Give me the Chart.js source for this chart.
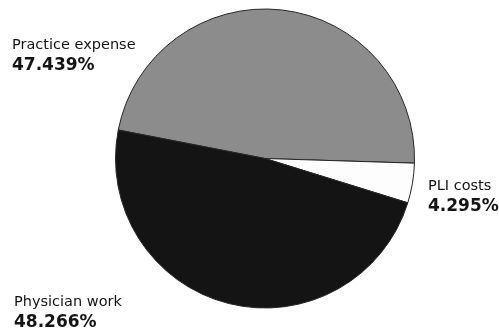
<!DOCTYPE html>
<meta charset="utf-8">
<style>
html, body {
  margin: 0;
  background: #fff;
}

#pie {
  display: block;
}
</style>
<body>

<canvas id="pie" width="499" height="331"></canvas>

<script src="https://cdn.jsdelivr.net/npm/chart.js@4/dist/chart.umd.min.js"></script>
<script>
"use strict";

// cost shares, in percent
var categories = ["Practice expense", "PLI costs", "Physician work"];
var shares = [47.439, 4.295, 48.266];
var sliceColors = ["#8c8c8c", "#fdfdfd", "#141414"];

// where each label block sits (left edge, baseline of the name line)
var labelSpots = [
  { x: 12, y: 49 },
  { x: 428, y: 190 },
  { x: 14, y: 306 }
];

var sliceLabels = {
  id: "sliceLabels",
  afterDraw: function (chart) {
    var ctx = chart.ctx;
    var values = chart.data.datasets[0].data;

    ctx.save();
    ctx.fillStyle = "#141414";
    ctx.textAlign = "left";
    ctx.textBaseline = "alphabetic";

    chart.data.labels.forEach(function (name, i) {
      var spot = labelSpots[i];

      ctx.font = "14.5px 'DejaVu Sans', sans-serif";
      ctx.fillText(name, spot.x, spot.y);

      ctx.font = "bold 17px 'DejaVu Sans', sans-serif";
      ctx.fillText(values[i].toFixed(3) + "%", spot.x, spot.y + 21);
    });

    ctx.restore();
  }
};

new Chart(document.getElementById("pie"), {
  type: "pie",
  data: {
    labels: categories,
    datasets: [{
      data: shares,
      backgroundColor: sliceColors,
      borderColor: "#262626",
      borderWidth: 1
    }]
  },
  options: {
    responsive: false,
    animation: false,
    rotation: -79,
    layout: {
      padding: { left: 115, right: 84, top: 4, bottom: 18 }
    },
    plugins: {
      legend: { display: false },
      tooltip: { enabled: false }
    }
  },
  plugins: [sliceLabels]
});
</script>
</body>
